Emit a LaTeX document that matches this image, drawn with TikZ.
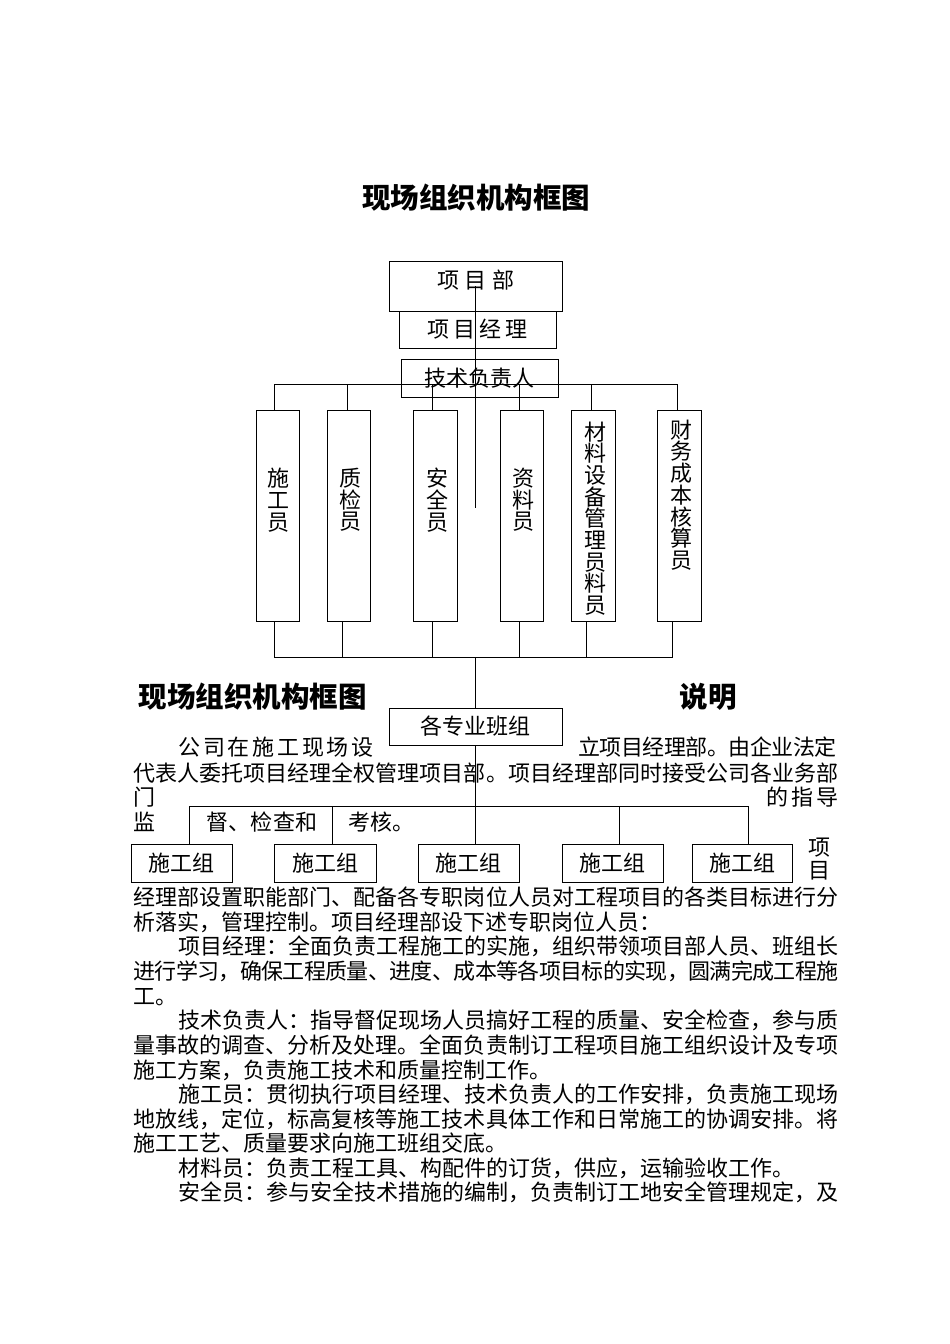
\documentclass[tikz,border=0pt]{standalone}
\usepackage{fontspec}
\setmainfont{Noto Sans CJK SC}
\makeatletter
\newcommand\jline[2]{\makebox[#1][s]{\@tfor\jch:=#2\do{\jch\hskip 0pt plus 1fil minus 1fil}\unskip}}
\makeatother
\tikzset{
  box/.style={draw, line width=1pt, inner sep=0pt, text height=19.4pt, text depth=2.6pt},
  txt/.style={inner sep=0pt, anchor=west, text height=19.4pt, text depth=2.6pt},
  vtxt/.style={inner sep=0pt, align=center, font=\fontsize{22}{21.7}\selectfont},
  ttl/.style={inner sep=0pt, font=\bfseries\fontsize{28.5}{30}\selectfont, text height=25.1pt, text depth=3.4pt}
}
\begin{document}
\begin{tikzpicture}[x=1pt, y=-1pt, line width=1pt, font=\fontsize{22}{25}\selectfont]
   \useasboundingbox (0,0) rectangle (950,1344);
   \node[ttl] (ttl1) at (476,198) {现场组织机构框图};
   % upper chart
   \node[box, minimum width=173pt, minimum height=50pt, text depth=14.6pt] (xmb) at (475.5,286) {\jline{77pt}{项目部}};
   \node[box, minimum width=157pt, minimum height=37pt] (xmjl) at (477.5,329.5) {\jline{101pt}{项目经理}};
   \node[box, minimum width=157pt, minimum height=38pt] (jsfz) at (479.5,378) {技术负责人};
   \node[box, minimum width=43pt, minimum height=211pt] (sgy) at (277.5,515.5) {};
   \node[box, minimum width=43pt, minimum height=211pt] (zjy) at (348.5,515.5) {};
   \node[box, minimum width=44pt, minimum height=211pt] (aqy) at (435,515.5) {};
   \node[box, minimum width=43pt, minimum height=211pt] (zly) at (521.5,515.5) {};
   \node[box, minimum width=44pt, minimum height=211pt] (cly) at (593,515.5) {};
   \node[box, minimum width=44pt, minimum height=211pt] (cwy) at (679,515.5) {};
   \node[vtxt] (sgyt) at (278,500) {施\\工\\员};
   \node[vtxt] (zjyt) at (350,500) {质\\检\\员};
   \node[vtxt] (aqyt) at (437.5,500) {安\\全\\员};
   \node[vtxt] (zlyt) at (523.5,500) {资\\料\\员};
   \node[vtxt] (clyt) at (595.5,518.5) {材\\料\\设\\备\\管\\理\\员\\料\\员};
   \node[vtxt] (cwyt) at (681,495) {财\\务\\成\\本\\核\\算\\员};
   \draw (xmb.center) -- ++(0,222);
   \draw ([xshift=-3pt]sgy.north) -- ++(0,-25) -| ([xshift=-2pt]cwy.north);
   \draw ([xshift=-1.5pt]zjy.north) -- ++(0,-25);
   \draw ([xshift=-3pt]aqy.north) -- ++(0,-25);
   \draw ([xshift=-2.5pt]zly.north) -- ++(0,-25);
   \draw ([xshift=-2pt]cly.north) -- ++(0,-25);
   \draw ([xshift=-3pt]sgy.south) -- ++(0,36) -| ([xshift=-7pt]cwy.south);
   \draw ([xshift=-6.5pt]zjy.south) -- ++(0,36);
   \draw ([xshift=-3pt]aqy.south) -- ++(0,36);
   \draw ([xshift=-2.5pt]zly.south) -- ++(0,36);
   \draw ([xshift=-7pt]cly.south) -- ++(0,36);
   % lower chart
   \node[box, minimum width=173pt, minimum height=37pt] (bz) at (475.5,726.5) {各专业班组};
   \node[box, minimum width=101pt, minimum height=38pt] (g1) at (181.5,863) {施工组};
   \node[box, minimum width=102pt, minimum height=38pt] (g2) at (325,863) {施工组};
   \node[box, minimum width=101pt, minimum height=38pt] (g3) at (468.5,863) {施工组};
   \node[box, minimum width=101pt, minimum height=38pt] (g4) at (612.5,863) {施工组};
   \node[box, minimum width=100pt, minimum height=38pt] (g5) at (742,863) {施工组};
   \draw (bz.north) -- ++(0,-51);
   \draw (bz.south) -- ++(0,62);
   \draw ([xshift=7.5pt]g1.north) -- ++(0,-37) -| ([xshift=6pt]g5.north);
   \draw ([xshift=7pt]g2.north) -- ++(0,-37);
   \draw ([xshift=6.5pt]g3.north) -- ++(0,-37);
   \draw ([xshift=6.5pt]g4.north) -- ++(0,-37);
   % text
   \node[ttl, anchor=west] (ttl2) at (138,697) {现场组织机构框图};
   \node[ttl, anchor=west] (shm) at (679,697) {说明};
   \node[txt] (p1a) at (178,747) {\jline{195pt}{公司在施工现场设}};
   \node[txt] (p1b) at (578,747) {\jline{258pt}{立项目经理部。由企业法定}};
   \node[txt] (p2) at (133,773) {\jline{705pt}{代表人委托项目经理全权管理项目部。项目经理部同时接受公司各业务部}};
   \node[txt] (p3a) at (133,797) {门};
   \node[txt] (p3b) at (766,797) {\jline{72pt}{的指导}};
   \node[txt] (p4a) at (133,822) {监};
   \node[txt] (p4b) at (206,822) {\jline{111pt}{督、检查和}};
   \node[txt] (p4c) at (348,822) {考核。};
   \node[txt] (p5a) at (808,847) {项};
   \node[txt] (p5b) at (808,870) {目};
   \node[txt] (p6) at (133,897) {\jline{705pt}{经理部设置职能部门、配备各专职岗位人员对工程项目的各类目标进行分}};
   \node[txt] (p7) at (133,922) {析落实，管理控制。项目经理部设下述专职岗位人员：};
   \node[txt] (p8) at (178,946) {\jline{660pt}{项目经理：全面负责工程施工的实施，组织带领项目部人员、班组长}};
   \node[txt] (p9) at (133,971) {\jline{705pt}{进行学习，确保工程质量、进度、成本等各项目标的实现，圆满完成工程施}};
   \node[txt] (p10) at (133,996) {工。};
   \node[txt] (p11) at (178,1020) {\jline{660pt}{技术负责人：指导督促现场人员搞好工程的质量、安全检查，参与质}};
   \node[txt] (p12) at (133,1045) {\jline{705pt}{量事故的调查、分析及处理。全面负责制订工程项目施工组织设计及专项}};
   \node[txt] (p13) at (133,1070) {施工方案，负责施工技术和质量控制工作。};
   \node[txt] (p14) at (178,1094) {\jline{660pt}{施工员：贯彻执行项目经理、技术负责人的工作安排，负责施工现场}};
   \node[txt] (p15) at (133,1119) {\jline{705pt}{地放线，定位，标高复核等施工技术具体工作和日常施工的协调安排。将}};
   \node[txt] (p16) at (133,1143) {施工工艺、质量要求向施工班组交底。};
   \node[txt] (p17) at (178,1168) {材料员：负责工程工具、构配件的订货，供应，运输验收工作。};
   \node[txt] (p18) at (178,1192) {\jline{660pt}{安全员：参与安全技术措施的编制，负责制订工地安全管理规定，及}};
\end{tikzpicture}
\end{document}
